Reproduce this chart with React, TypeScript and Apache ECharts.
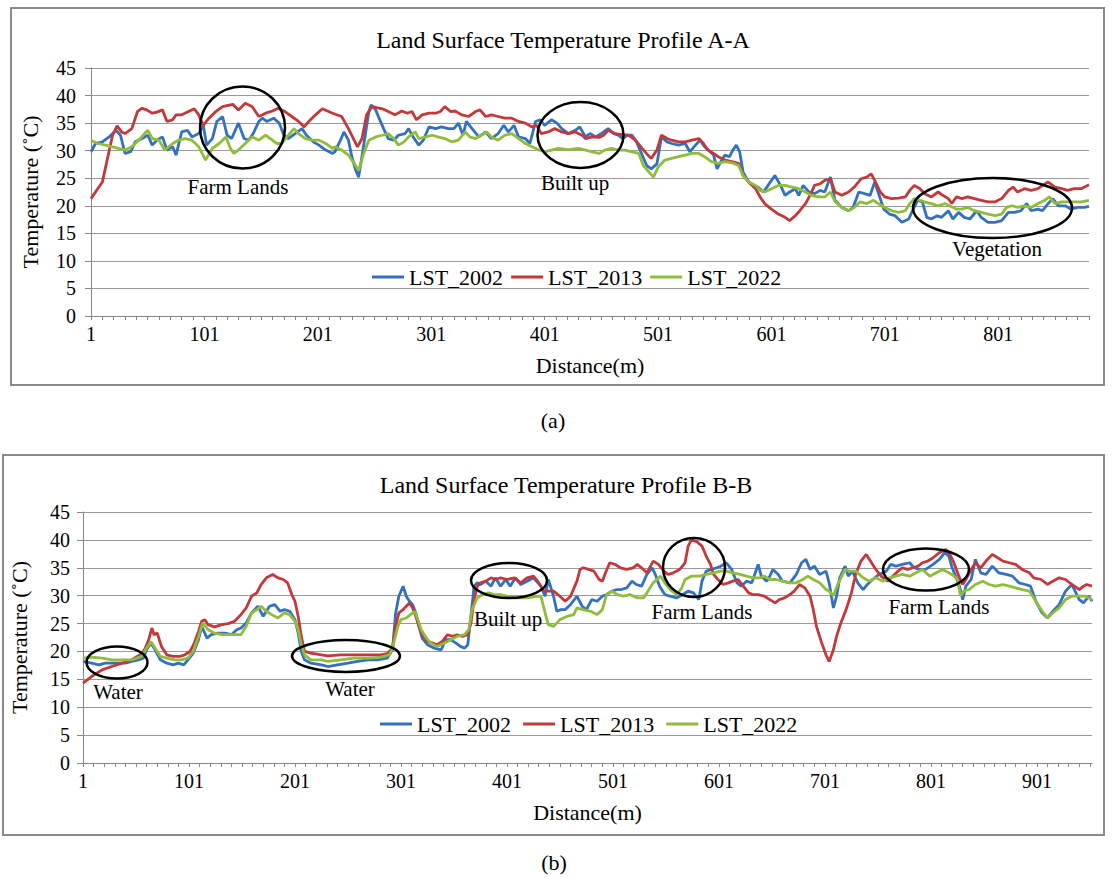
import React, { useEffect, useRef } from "react";
import * as echarts from "echarts";

const FONT = '"Liberation Serif", "Times New Roman", Times, serif';
const SERIES_NAMES = ["LST_2002", "LST_2013", "LST_2022"];
const COLORS = ["#3470c0", "#c4373a", "#8fbc3b"];
const MAX_DIST_A = 881;
const MAX_DIST_B = 953;
const TITLE_A = "Land Surface Temperature Profile A-A";
const TITLE_B = "Land Surface Temperature Profile B-B";

// Profile A-A : [distance (m), temperature (°C)]
const a2002: [number, number][] = [
  [1,29.8],[5,31.3],[11,31.6],[17,32.5],[23,33.7],[27,32.8],[31,29.5],[36,29.8],[40,31.6],[46,32.2],[51,32.8],[55,31],[59,31.9],[64,32.5],[68,30.1],[73,30.7],[76,29.2],[81,33.4],[86,33.7],[90,32.5],[96,33.1],[100,34.6],[103,31],[108,32.2],[112,35.3],[117,36.2],[121,32.8],[125,32.2],[131,35],[136,32.2],[140,31.9],[144,33.1],[149,35.3],[152,35.9],[156,35.3],[162,35.9],[167,35],[171,32.8],[175,32.2],[181,33.1],[187,34],[191,32.8],[197,31.6],[202,31],[208,30.1],[214,29.5],
  [216,29.8],[221,31.9],[224,33.4],[228,31.9],[231,28.9],[234,26.7],[237,25.2],[241,30.4],[246,37.1],[248,38.3],[252,37.4],[255,35.9],[259,34],[263,32.2],[268,31.9],[272,32.8],[278,33.1],[281,34],[285,32.5],[290,31],[294,31.9],[299,34.3],[305,34],[310,34.3],[316,34],[321,34],[325,35],[329,32.8],[332,35.3],[337,34],[343,32.5],[349,33.4],[354,32.2],[360,33.1],[365,34.6],[369,33.4],[374,34.6],[378,32.5],[384,32.2],[388,31.3],[393,35.3],[397,35.6],[401,34.6],[407,35.6],[412,35],[416,34],[422,33.1],[428,33.7],[432,34.3],
  [437,32.5],[441,33.1],[446,32.5],[451,33.1],[457,34],[462,33.1],[466,32.8],[470,32.2],[474,32.8],[478,32.8],[482,31.6],[487,29.2],[491,27.3],[495,26.7],[500,27.6],[504,32.5],[509,31.6],[513,31.3],[519,31],[525,31.3],[529,29.8],[534,31],[538,31.9],[542,30.7],[547,29.8],[550,29.2],[553,26.7],[556,27.9],[560,29.2],[564,28.9],[567,30.1],[570,31],[573,29.8],[576,26.1],[581,24.3],[585,23.7],[589,23.4],[594,22.5],[598,23.7],[604,25.5],[609,23.7],[613,21.9],[617,22.5],[622,23.1],[625,21.9],[629,23.7],[634,22.5],[639,22.2],[644,22.8],[648,22.5],[653,25.2],
  [657,21],[663,19.7],[669,19.1],[673,19.7],[678,22.5],[683,22.2],[688,21.9],[692,24.3],[695,22.5],[700,19.4],[705,18.5],[710,18.2],[716,17],[722,17.6],[726,19.4],[730,21],[734,20.7],[738,17.9],[742,17.6],[747,18.2],[751,17.9],[757,19.1],[761,17.6],[766,18.8],[771,17.9],[776,17.6],[782,19.1],[786,17.9],[792,17],[798,17],[804,17.3],[810,18.8],[815,18.8],[821,19.1],[826,20.4],[830,19.1],[836,19.4],[840,19.1],[845,20.4],[849,21.3],[854,20],[860,20],[865,19.4],[871,19.7],[877,19.7],[881,19.9],
];
const a2013: [number, number][] = [
  [1,21.3],[11,24.3],[20,32.8],[24,34.5],[28,33.4],[31,33.1],[37,34],[42,37.1],[46,37.7],[50,37.4],[55,36.8],[59,37],[64,37.4],[68,35.3],[73,35.6],[76,36.5],[81,36.5],[87,37.1],[92,37.6],[96,36.5],[100,34.6],[105,35.9],[111,37.1],[117,38],[126,38.4],[131,37.4],[137,38.6],[143,38],[149,36.2],[155,36.8],[161,37.2],[166,37.7],[172,37.1],[178,36.2],[184,35.3],[189,34.3],[193,35.3],[199,36.5],[205,37.6],[214,36.8],
  [222,36.2],[228,34],[233,31.9],[236,30.7],[240,32.2],[244,36.5],[249,38],[253,37.8],[258,37.6],[263,37.1],[269,36.5],[275,37.2],[280,36.8],[284,37.1],[288,35.6],[293,36.5],[299,36.8],[305,36.8],[309,37.1],[313,38],[318,37.1],[322,37.2],[328,36.5],[334,36.2],[340,37.1],[344,37.4],[349,36.2],[354,36.5],[360,36.2],[366,35.9],[372,35.9],[378,35.3],[384,35],[390,34.3],[394,34.6],[398,33.1],[404,33.4],[410,34],[416,33.4],[422,33.1],[428,33.4],[434,32.8],
  [437,32.2],[443,32.5],[449,32.4],[453,32.8],[457,33.7],[463,33.1],[469,32.9],[475,32.8],[481,31.9],[487,30.4],[492,29.2],[495,28.6],[500,30.1],[504,32.8],[509,32.2],[513,31.9],[519,31.6],[525,31.6],[531,31.9],[537,32.2],[541,31.3],[545,30.1],[550,29.5],[554,28.9],[560,28.3],[566,28],[572,27.7],[576,25.5],[581,24.3],[587,23.1],[591,21.6],[595,20.4],[601,19.4],[607,18.5],[613,17.9],[617,17.3],[622,18.2],[626,19.1],[631,20.4],[635,21.9],[639,23.7],[644,24],[648,24.6],[653,24.9],
  [657,22.5],[663,21.9],[669,22.5],[674,23.4],[680,24.9],[685,25.2],[689,25.8],[692,24.6],[697,22.5],[701,21.6],[707,21.3],[713,21.4],[719,21.6],[723,22.8],[727,23.7],[732,23.1],[736,22.2],[742,21.6],[748,22.5],[752,21.9],[757,21.3],[760,20.4],[764,21.6],[769,21.3],[774,21.6],[780,21.3],[786,21],[792,20.7],[798,20.7],[804,21.3],[810,22.8],[814,23.4],[818,22.5],[824,23.1],[830,22.8],[836,23.1],[840,23.7],[845,24.3],[851,23.4],[857,23.1],[862,22.8],[868,23.1],[874,23.1],[881,23.8],
];
const a2022: [number, number][] = [
  [1,31.9],[7,31.3],[14,31],[20,30.7],[25,30.4],[31,30.1],[37,30.7],[43,31.9],[51,33.7],[55,32.2],[61,31.9],[66,30.1],[73,31.3],[78,31.9],[84,32.2],[90,31.9],[96,30.7],[102,28.3],[108,30.4],[114,31.3],[120,32.5],[124,30.4],[127,29.5],[131,30.1],[137,31.3],[143,32.5],[149,31.9],[155,32.8],[159,32.2],[165,31.3],[169,31.3],[175,32.8],[180,34],[184,33.1],[190,32.2],[196,31.9],[202,31.9],[208,31.3],[214,30.4],
  [216,30.7],[222,30.1],[228,29.2],[233,27.7],[237,26.4],[241,29.2],[246,31.9],[252,32.5],[258,32.8],[263,33.1],[268,32.2],[272,31],[277,31.6],[281,32.5],[287,33.4],[290,32.2],[296,32.5],[302,32.8],[307,32.5],[313,32.2],[319,31.6],[325,31.9],[331,33.4],[335,32.5],[340,32.2],[345,32.8],[350,33.4],[354,32.5],[360,31.9],[366,32.8],[372,33.1],[378,32.2],[384,31.3],[390,30.7],[396,30.1],[401,29.8],[407,30.1],[413,30.4],[422,30.2],[431,30.4],
  [437,30.1],[443,29.8],[449,29.5],[454,30.1],[460,30.4],[466,30.1],[472,30.1],[478,29.8],[484,29.5],[488,27.3],[493,26.1],[497,25.2],[501,27],[507,28.3],[513,28.6],[519,28.9],[525,29.2],[531,29.5],[537,29.5],[542,28.9],[548,28],[554,27.7],[560,28],[566,27.8],[572,27.3],[576,25.5],[581,24.3],[587,23.7],[591,22.8],[595,22.5],[601,23.1],[607,23.7],[613,23.7],[619,23.4],[625,23.1],[631,22.5],[636,21.9],[642,21.6],[648,21.6],[653,22.5],
  [657,20.8],[663,19.7],[669,19.1],[674,19.7],[679,20.7],[685,20.4],[691,21],[695,20.4],[701,19.7],[707,19.1],[713,18.8],[719,19.1],[723,20.4],[727,21.3],[732,21],[736,20.7],[742,20.4],[748,20],[754,20.4],[758,20],[764,19.4],[769,19.4],[774,19.7],[780,19.1],[786,18.8],[792,18.5],[798,18.2],[804,18.5],[808,19.7],[813,20],[818,19.7],[824,20],[830,19.7],[836,20.4],[842,21],[846,21.6],[851,20.4],[857,20.7],[862,20.7],[868,20.7],[874,20.7],[881,21],
];

// Profile B-B : [distance (m), temperature (°C)]
const b2002: [number, number][] = [
  [1,18.2],[9,17.9],[16,17.6],[22,17.9],[28,17.9],[34,17.9],[41,17.9],[47,18.2],[53,18.5],[58,18.8],[61,20.3],[65,21.5],[69,20.3],[74,18.5],[80,17.9],[86,17.6],[91,17.9],[96,17.6],[100,18.5],[105,19.7],[110,22.1],[113,24.5],[118,22.4],[122,23],[128,23.3],[135,23.3],[141,23],[146,23.9],[150,24.2],[155,25.1],[160,26.9],[166,28.1],[171,26.3],[177,28.1],[182,28.4],[187,27.2],[191,27.5],[196,27.2],[201,25.7],[204,23.3],[207,20],[210,18.5],[216,17.9],[226,17.6],
  [232,17.3],[241,17.6],[251,17.9],[260,18.2],[270,18.5],[279,18.5],[288,18.8],[293,20.3],[296,26.9],[299,29.9],[303,31.7],[306,29.9],[309,29],[312,28.4],[315,26.9],[318,24.5],[321,22.4],[326,21.2],[332,20.6],[339,20.3],[343,22.1],[348,22.1],[353,21.5],[357,20.9],[361,20.6],[364,21.2],[367,26.3],[370,31.7],[373,32.3],[376,32],[381,32.6],[386,31.7],[390,33.2],[395,31.7],[400,32.9],[404,31.7],[409,33.2],[414,32],[420,32.6],[426,33.2],[433,31.7],[437,29.9],[440,32.9],[445,29.9],[448,27.2],[452,27.5],[456,27.5],[461,28.4],
  [467,29.9],[472,28.1],[476,27.5],[481,29.3],[486,29],[491,29.9],[495,30.2],[500,30.8],[505,31.1],[509,31.1],[514,31.4],[519,32.6],[523,32],[528,31.7],[533,33.8],[538,35],[541,33.8],[545,31.7],[550,30.2],[555,29.9],[561,29.6],[567,30.2],[572,30.8],[577,30.5],[582,29.3],[585,32.6],[589,34.4],[594,34.7],[599,35],[603,35.3],[608,35.9],[613,34.7],[618,32.3],[622,31.7],[627,32.6],[632,32.3],[638,35.6],[641,33.5],[646,32.6],[649,33.5],[652,34.7],[657,33.8],[661,32.6],[668,32.3],[674,33.8],[679,35.9],[683,36.5],[687,34.7],[691,35.3],[696,33.8],
  [702,34.4],[705,32.3],[709,27.8],[712,29.9],[715,33.2],[720,35.3],[723,33.5],[727,34.4],[732,32.3],[737,31.1],[741,32],[746,32.9],[752,33.8],[759,34.4],[763,35.6],[768,35.3],[774,35.6],[781,35.9],[785,35],[790,34.7],[796,34.7],[803,35.6],[809,36.5],[814,37.7],[818,37.1],[821,35],[825,33.2],[828,31.7],[831,29.3],[834,31.7],[839,32.9],[843,36.5],[848,34.1],[853,33.8],[859,35.3],[865,34.1],[872,33.8],[878,33.5],[884,32.3],[890,32],[895,31.7],[900,29],[906,26.9],[911,26],[916,27.2],[922,28.4],[928,30.8],[934,32],[941,29.3],[945,28.7],[950,29.9],[953,29],
];
const b2013: [number, number][] = [
  [1,14.3],[9,15.5],[19,16.7],[28,17.3],[38,17.9],[47,18.5],[55,19.4],[59,20.3],[63,22.1],[66,24.2],[68,23],[71,23.3],[75,20.9],[80,19.4],[86,19.1],[92,19.1],[97,19.4],[102,20],[106,21.5],[110,23.6],[113,25.4],[116,25.7],[119,24.8],[125,24.4],[132,24.8],[138,25],[144,25.4],[150,26.6],[155,27.8],[160,29.9],[165,30.5],[169,32],[174,33.2],[180,33.8],[185,33.2],[190,32.9],[194,32.3],[198,30.2],[201,29],[204,26.3],[207,22.7],[210,20],[216,19.7],[226,19.4],
  [232,19.2],[244,19.4],[257,19.4],[270,19.4],[282,19.4],[288,19.6],[293,20.6],[296,24.5],[299,26.9],[303,27.5],[306,28.1],[309,28.7],[312,27.8],[315,26.3],[318,24.5],[321,23],[326,21.8],[331,21.5],[335,21.2],[340,21.8],[345,23],[350,22.7],[354,23],[359,22.7],[364,23],[367,25.1],[370,29.3],[373,31.7],[376,32.3],[381,32.6],[386,33.2],[390,32.9],[395,33.2],[401,32.9],[408,33.2],[414,32.3],[420,33.2],[426,33.5],[430,32.6],[433,31.7],[436,30.8],[440,30.8],[445,30.8],[451,29.9],[456,29],[461,29.9],
  [467,32.6],[470,34.7],[473,35],[478,34.7],[483,34.4],[488,32.9],[491,32.6],[494,34.1],[498,35.9],[503,35.6],[508,35],[514,34.7],[520,35],[524,35.6],[528,35],[533,34.1],[539,36.2],[544,35.6],[549,34.4],[553,33.8],[558,34.1],[564,34.7],[569,35.9],[572,38.9],[575,40],[580,39.7],[585,38.9],[589,37.1],[593,35.6],[596,33.8],[600,32.9],[605,32],[610,32.3],[614,32.6],[619,32.9],[624,31.7],[629,30.5],[633,30.2],[638,30.2],[644,29.9],[649,29.3],[654,28.7],[658,29.3],[663,29.6],[668,30.2],[672,30.8],[677,32],[682,31.4],[687,29.9],[690,27.5],[693,24.5],[698,21.5],
  [702,19.4],[705,18.2],[709,20.3],[712,22.7],[716,25.1],[721,27.5],[726,30.5],[730,33.8],[735,36.2],[740,37.4],[745,35.9],[749,34.7],[754,33.5],[760,32.6],[765,33.5],[770,34.4],[774,35],[779,34.7],[784,35],[789,35.3],[793,35.9],[798,36.2],[803,36.8],[809,37.7],[815,38.3],[818,37.7],[822,36.2],[825,34.7],[828,33.2],[831,32],[834,32.9],[839,34.7],[843,35.9],[848,35],[853,36.2],[859,37.4],[864,36.8],[869,36.2],[875,35.9],[881,35.6],[887,34.7],[894,34.1],[898,33.2],[905,32.9],[911,32],[916,32.6],[922,33.2],[928,32.9],[934,32],[941,31.1],[945,31.7],[948,32],[953,31.7],
];
const b2022: [number, number][] = [
  [1,18.8],[9,19],[19,18.8],[28,18.5],[38,18.5],[47,18.5],[56,19.1],[61,20.6],[65,21.8],[69,20.6],[74,19.1],[80,18.8],[88,18.5],[94,18.5],[100,18.8],[105,20],[110,22.7],[114,25.1],[119,23.9],[125,23.3],[132,23],[138,23],[144,23],[150,23],[155,24.5],[160,26.9],[165,27.5],[169,28.1],[174,27.2],[179,26.6],[185,26],[191,26.9],[196,26.6],[201,25.4],[204,23.9],[207,21.2],[210,19.4],[216,18.5],[226,18.5],
  [232,18.2],[244,18.5],[257,18.8],[270,18.8],[282,19],[290,19.4],[293,20.6],[298,24.5],[301,25.7],[306,26],[310,26.6],[314,27.2],[317,25.7],[320,23.9],[325,22.4],[329,21.5],[335,20.9],[342,21.5],[348,22.1],[354,22.7],[361,23],[365,23.9],[368,27.5],[373,29.6],[378,30.2],[384,30.5],[389,30.2],[395,30.2],[401,29.9],[408,29.6],[414,29.6],[420,29.6],[426,29.8],[433,29.9],[437,26.9],[440,24.8],[445,24.5],[451,25.7],[458,26.3],[464,26.6],
  [467,27.8],[473,27.5],[480,27.2],[486,26.6],[491,27.5],[495,30.2],[500,30.8],[505,30.2],[511,29.9],[517,30.2],[524,29.6],[530,29.6],[534,30.8],[539,32.3],[546,33.5],[550,32.3],[555,31.1],[561,30.2],[566,31.4],[569,32.9],[575,33.5],[583,33.5],[589,33.8],[596,34.1],[602,34.4],[608,34.4],[614,34.1],[621,33.8],[627,33.5],[633,33.2],[640,33.2],[644,33.5],[649,32.9],[655,32.9],[661,32.6],[668,32.3],[674,32.3],[680,32.9],[685,33.5],[690,32.9],[696,32.3],
  [702,31.1],[705,30.8],[709,30],[713,32],[720,34.7],[724,34.4],[730,34.4],[737,33.2],[743,32.6],[749,33.2],[756,32.6],[762,33.2],[768,33.5],[774,33.8],[781,33.5],[787,34.1],[793,34.7],[800,33.5],[806,34.1],[812,34.7],[818,34.1],[823,33.5],[826,32.9],[829,30],[832,30.8],[837,31.1],[843,32],[850,32.6],[856,32],[862,31.7],[869,32],[875,31.7],[881,31.4],[887,31.1],[894,30.8],[900,29],[906,27.2],[911,26],[916,26.9],[922,27.8],[928,29.3],[934,29.9],[941,29.9],[947,29.9],[953,29.3],
];

const SERIES_A = [a2002, a2013, a2022];
const SERIES_B = [b2002, b2013, b2022];

const ANNOTATIONS_A = ["Farm Lands", "Built up", "Vegetation"];
const ANNOTATIONS_B = ["Water", "Water", "Built up", "Farm Lands", "Farm Lands"];

const distLabels = (n: number) => Array.from({ length: n }, (_, i) => String(i + 1));

const textEl = (text: string, x: number, y: number, size: number) => ({
  type: "text",
  x,
  y,
  z: 50,
  style: {
    text,
    fill: "#000",
    fontFamily: FONT,
    fontSize: size,
    textAlign: "center",
    textVerticalAlign: "middle",
  },
});

const ellipseEl = (cx: number, cy: number, rx: number, ry: number) => ({
  type: "ellipse",
  z: 60,
  shape: { cx, cy, rx, ry },
  style: { stroke: "#000", lineWidth: 2.5, fill: "none" },
});

const rectEl = (x: number, y: number, w: number, h: number) => ({
  type: "rect",
  z: 1,
  shape: { x, y, width: w, height: h },
  style: { stroke: "#8a8a8a", lineWidth: 2, fill: "none" },
});

const axisColor = "#868686";

const xAxisFor = (gridIndex: number, n: number) => ({
  type: "category",
  gridIndex,
  data: distLabels(n),
  boundaryGap: false,
  axisLine: { show: true, lineStyle: { color: axisColor, width: 1 } },
  axisTick: { show: true, interval: 9, length: 4, lineStyle: { color: axisColor } },
  axisLabel: { interval: 99, color: "#000", fontFamily: FONT, fontSize: 20, margin: 8 },
  splitLine: { show: false },
  name: "Distance(m)",
  nameLocation: "middle",
  nameGap: 38,
  nameTextStyle: { color: "#000", fontFamily: FONT, fontSize: 22 },
});

const yAxisFor = (gridIndex: number, labelMargin: number, nameGap: number) => ({
  type: "value",
  gridIndex,
  min: 0,
  max: 45,
  interval: 5,
  axisLine: { show: true, lineStyle: { color: axisColor, width: 1 } },
  axisTick: { show: true, length: 6, lineStyle: { color: axisColor } },
  axisLabel: { color: "#000", fontFamily: FONT, fontSize: 20, margin: labelMargin },
  splitLine: { show: true, lineStyle: { color: "#9a9a9a", width: 1 } },
  name: "Temperature (˚C)",
  nameLocation: "middle",
  nameGap,
  nameRotate: 90,
  nameTextStyle: { color: "#000", fontFamily: FONT, fontSize: 22 },
});

const legendFor = (left: number, top: number, gap: number) => ({
  data: SERIES_NAMES,
  left,
  top,
  icon: "rect",
  itemWidth: 32,
  itemHeight: 3,
  itemGap: gap,
  textStyle: { color: "#000", fontFamily: FONT, fontSize: 22 },
});

export default function App() {
  const ref = useRef<HTMLDivElement>(null);

  useEffect(() => {
    document.body.style.margin = "0";
    document.body.style.overflow = "hidden";
    if (!ref.current) return;
    const chart = echarts.init(ref.current, undefined, { renderer: "svg" });

    const series: any[] = [];
    SERIES_A.forEach((arr, i) => {
      series.push({
        name: SERIES_NAMES[i],
        type: "line",
        xAxisIndex: 0,
        yAxisIndex: 0,
        showSymbol: false,
        symbol: "none",
        color: COLORS[i],
        lineStyle: { color: COLORS[i], width: 2.8 },
        data: arr.map(([d, v]) => [d - 1, v]),
      });
    });
    SERIES_B.forEach((arr, i) => {
      series.push({
        name: SERIES_NAMES[i],
        type: "line",
        xAxisIndex: 1,
        yAxisIndex: 1,
        showSymbol: false,
        symbol: "none",
        color: COLORS[i],
        lineStyle: { color: COLORS[i], width: 2.8 },
        data: arr.map(([d, v]) => [d - 1, v]),
      });
    });

    chart.setOption({
      animation: false,
      backgroundColor: "#ffffff",
      grid: [
        { left: 91, top: 68, width: 998, height: 248 },
        { left: 80, top: 512, width: 1012, height: 251 },
      ],
      xAxis: [xAxisFor(0, MAX_DIST_A), xAxisFor(1, MAX_DIST_B)],
      yAxis: [yAxisFor(0, 15, 50), yAxisFor(1, 13, 53)],
      legend: [legendFor(367, 261, 8), legendFor(375, 708, 12)],
      series,
      graphic: [
        rectEl(11, 8, 1093, 377),
        rectEl(3, 455, 1101, 380),
        textEl(TITLE_A, 563, 40, 24),
        textEl(TITLE_B, 566, 485, 24),
        textEl("(a)", 553, 420, 22),
        textEl("(b)", 554, 862, 22),
        ellipseEl(242.5, 127.5, 42.5, 41),
        ellipseEl(580.5, 135, 43, 33),
        ellipseEl(992.5, 208, 79.5, 30),
        textEl(ANNOTATIONS_A[0], 238, 187, 21),
        textEl(ANNOTATIONS_A[1], 575, 183, 21),
        textEl(ANNOTATIONS_A[2], 997, 249, 21),
        ellipseEl(117, 662.5, 30.5, 16),
        ellipseEl(346, 656, 54, 16),
        ellipseEl(509, 580.5, 38, 17.5),
        ellipseEl(694, 567.5, 31, 29.5),
        ellipseEl(926, 569.5, 43, 21),
        textEl(ANNOTATIONS_B[0], 118, 692, 21),
        textEl(ANNOTATIONS_B[1], 350, 689, 21),
        textEl(ANNOTATIONS_B[2], 508, 619, 21),
        textEl(ANNOTATIONS_B[3], 702, 612, 21),
        textEl(ANNOTATIONS_B[4], 939, 607, 21),
      ],
    });

    return () => {
      chart.dispose();
    };
  }, []);

  return <div ref={ref} style={{ width: 1117, height: 878 }} />;
}
